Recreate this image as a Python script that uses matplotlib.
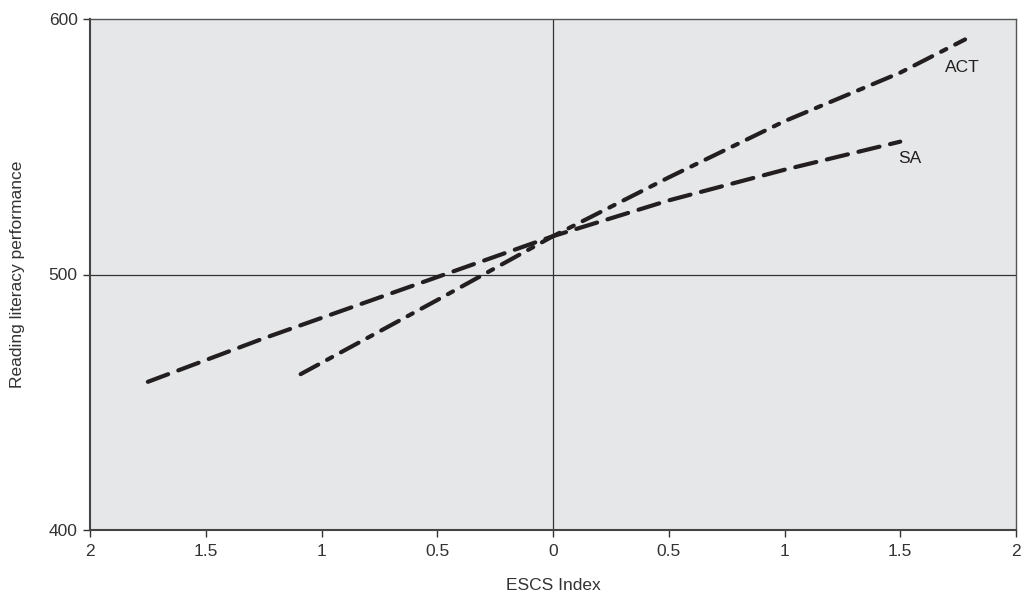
import matplotlib
matplotlib.use("Agg")
import matplotlib.pyplot as plt

plt.rcParams['font.family'] = ['Liberation Sans', 'DejaVu Sans']

# Data
sa_x = [-1.75, -1.25, -0.75, -0.25, 0.0, 0.5, 1.0, 1.5]
sa_y = [458, 475, 491, 507, 515, 529, 541, 552]
act_x = [-1.09, -0.5, 0.0, 0.5, 1.0, 1.5, 1.78]
act_y = [461, 490, 515, 538, 560, 579, 592]

x_ticks = [-2, -1.5, -1, -0.5, 0, 0.5, 1, 1.5, 2]
x_tick_labels = ['2', '1.5', '1', '0.5', '0', '0.5', '1', '1.5', '2']
y_ticks = [400, 500, 600]

W, H = 1028, 597
fig = plt.figure(figsize=(W/100, H/100), dpi=100)
ax = fig.add_axes([90/W, 1-530/H, (1016-90)/W, (530-19)/H])
ax.set_facecolor('#e6e7e8')
ax.set_xlim(-2, 2)
ax.set_ylim(400, 600)

ax.axvline(0, color='#333333', lw=0.9, zorder=1)
ax.axhline(500, color='#333333', lw=0.9, zorder=1)

ax.plot(sa_x, sa_y, color='#231f20', lw=3, linestyle=(0, (5.2, 2.6)),
        dash_capstyle='round', zorder=3)
ax.plot(act_x, act_y, color='#231f20', lw=3, linestyle=(0, (4.8, 2.4, 1.4, 2.4)),
        dash_capstyle='round', zorder=3)

ax.text(1.695, 581, 'ACT', fontsize=12.5, color='#231f20', va='center', ha='left')
ax.text(1.49, 545.5, 'SA', fontsize=12.5, color='#231f20', va='center', ha='left')

ax.set_xticks(x_ticks)
ax.set_xticklabels(x_tick_labels)
ax.set_yticks(y_ticks)
ax.tick_params(axis='both', direction='out', length=5, width=1, color='#333333',
               labelcolor='#333333', labelsize=12.5)
ax.tick_params(axis='x', pad=5)
ax.tick_params(axis='y', pad=4)

for side in ['left', 'bottom']:
    ax.spines[side].set_color('#444444')
    ax.spines[side].set_linewidth(1.5)
for side in ['top', 'right']:
    ax.spines[side].set_color('#555555')
    ax.spines[side].set_linewidth(1.0)

ax.set_xlabel('ESCS Index', fontsize=12.5, color='#333333')
ax.set_ylabel('Reading literacy performance', fontsize=12.5, color='#333333')
ax.xaxis.set_label_coords((553-90)/926, -(585-530)/511)
ax.yaxis.set_label_coords((18-90)/926, (530-274)/511)
ax.xaxis.label.set_va('center')
ax.yaxis.label.set_va('center')

fig.savefig('out.png', dpi=100)
